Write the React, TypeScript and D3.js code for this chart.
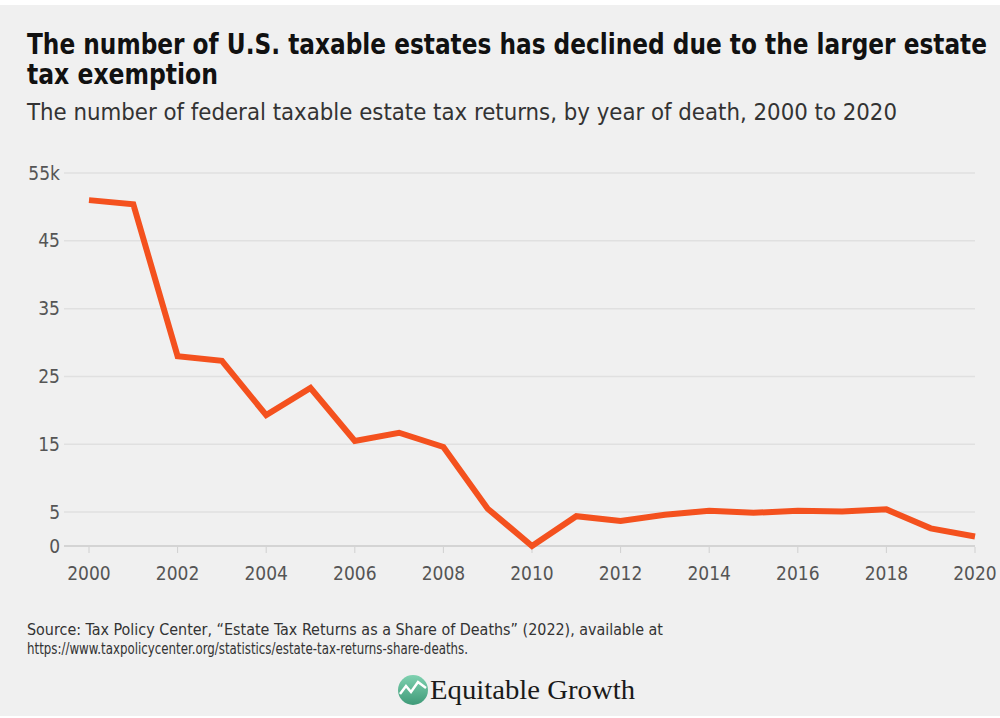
import * as d3 from 'd3'

const years = [
  2000, 2001, 2002, 2003, 2004, 2005, 2006, 2007, 2008, 2009, 2010, 2011, 2012,
  2013, 2014, 2015, 2016, 2017, 2018, 2019, 2020,
]
const returns = [
  51.0, 50.4, 28.0, 27.3, 19.3, 23.3, 15.5, 16.7, 14.6, 5.5, 0, 4.4, 3.7, 4.6,
  5.2, 4.9, 5.2, 5.1, 5.4, 2.6, 1.4,
]
const yTicks = [0, 5, 15, 25, 35, 45, 55]
const yTickLabels = ['0', '5', '15', '25', '35', '45', '55k']
const xTicks = [2000, 2002, 2004, 2006, 2008, 2010, 2012, 2014, 2016, 2018, 2020]

const W = 1000
const H = 718
const cond = '"Liberation Sans Narrow", "DejaVu Sans Condensed", "Roboto Condensed", sans-serif'

export default function App() {
  const x = d3.scaleLinear().domain([2000, 2020]).range([89, 975])
  const y = d3.scaleLinear().domain([0, 55]).range([546, 173])

  const line = d3
    .line<number>()
    .x((_, i) => x(years[i]))
    .y((d) => y(d))
    .curve(d3.curveLinear)

  return (
    <div style={{ position: 'fixed', left: 0, top: 0, width: W, height: H }}>
      <svg width={W} height={H} style={{ display: 'block' }}>
        <rect x={0} y={0} width={W} height={H} fill="#ffffff" />
        <rect x={0} y={5} width={W} height={H - 7} fill="#f0f0f0" />

        <text
          x={27}
          y={54}
          fontFamily={cond}
          fontWeight={700}
          fontSize={28}
          fill="#111"
          textLength={960}
          lengthAdjust="spacingAndGlyphs"
        >
          The number of U.S. taxable estates has declined due to the larger estate
        </text>
        <text
          x={27}
          y={84}
          fontFamily={cond}
          fontWeight={700}
          fontSize={28}
          fill="#111"
          textLength={191}
          lengthAdjust="spacingAndGlyphs"
        >
          tax exemption
        </text>
        <text
          x={27}
          y={120}
          fontFamily={cond}
          fontSize={23}
          fill="#333"
          textLength={870}
          lengthAdjust="spacingAndGlyphs"
        >
          The number of federal taxable estate tax returns, by year of death, 2000 to 2020
        </text>

        {yTicks.map((t, i) => (
          <g key={t}>
            <line
              x1={64}
              x2={975}
              y1={y(t)}
              y2={y(t)}
              stroke={t === 0 ? '#d4d4d4' : '#e0e0e0'}
              strokeWidth={t === 0 ? 2 : 1.5}
            />
            <text
              x={60}
              y={y(t)}
              dy="0.35em"
              textAnchor="end"
              fontFamily={cond}
              fontSize={19}
              fill="#555"
            >
              {yTickLabels[i]}
            </text>
          </g>
        ))}

        {xTicks.map((t) => (
          <g key={t}>
            <line x1={x(t)} x2={x(t)} y1={547} y2={553} stroke="#d0d0d0" strokeWidth={1} />
            <text
              x={x(t)}
              y={580}
              textAnchor="middle"
              fontFamily={cond}
              fontSize={19}
              fill="#555"
            >
              {t}
            </text>
          </g>
        ))}

        <path
          d={line(returns) ?? ''}
          fill="none"
          stroke="#f4511e"
          strokeWidth={6}
          strokeLinejoin="miter"
        />

        <text x={27} y={635} fontFamily={cond} fontSize={15} fill="#333" textLength={636} lengthAdjust="spacingAndGlyphs">
          Source: Tax Policy Center, “Estate Tax Returns as a Share of Deaths” (2022), available at
        </text>
        <text x={27} y={654} fontFamily={cond} fontSize={15} fill="#333" textLength={441} lengthAdjust="spacingAndGlyphs">
          https://www.taxpolicycenter.org/statistics/estate-tax-returns-share-deaths.
        </text>

        <defs>
          <linearGradient id="logoGrad" x1="0" y1="0" x2="0" y2="1">
            <stop offset="0" stopColor="#7fd1b0" />
            <stop offset="1" stopColor="#3f9a78" />
          </linearGradient>
        </defs>
        <circle cx={413} cy={690} r={15} fill="url(#logoGrad)" />
        <path
          d="M400,694 L406,686 L411,692 L418,682 L426,688"
          fill="none"
          stroke="#ffffff"
          strokeWidth={2.5}
        />
        <text
          x={430}
          y={699}
          fontFamily='"Liberation Serif", "DejaVu Serif", serif'
          fontSize={28}
          fill="#1a1a1a"
          textLength={205}
          lengthAdjust="spacingAndGlyphs"
        >
          Equitable Growth
        </text>
      </svg>
    </div>
  )
}
